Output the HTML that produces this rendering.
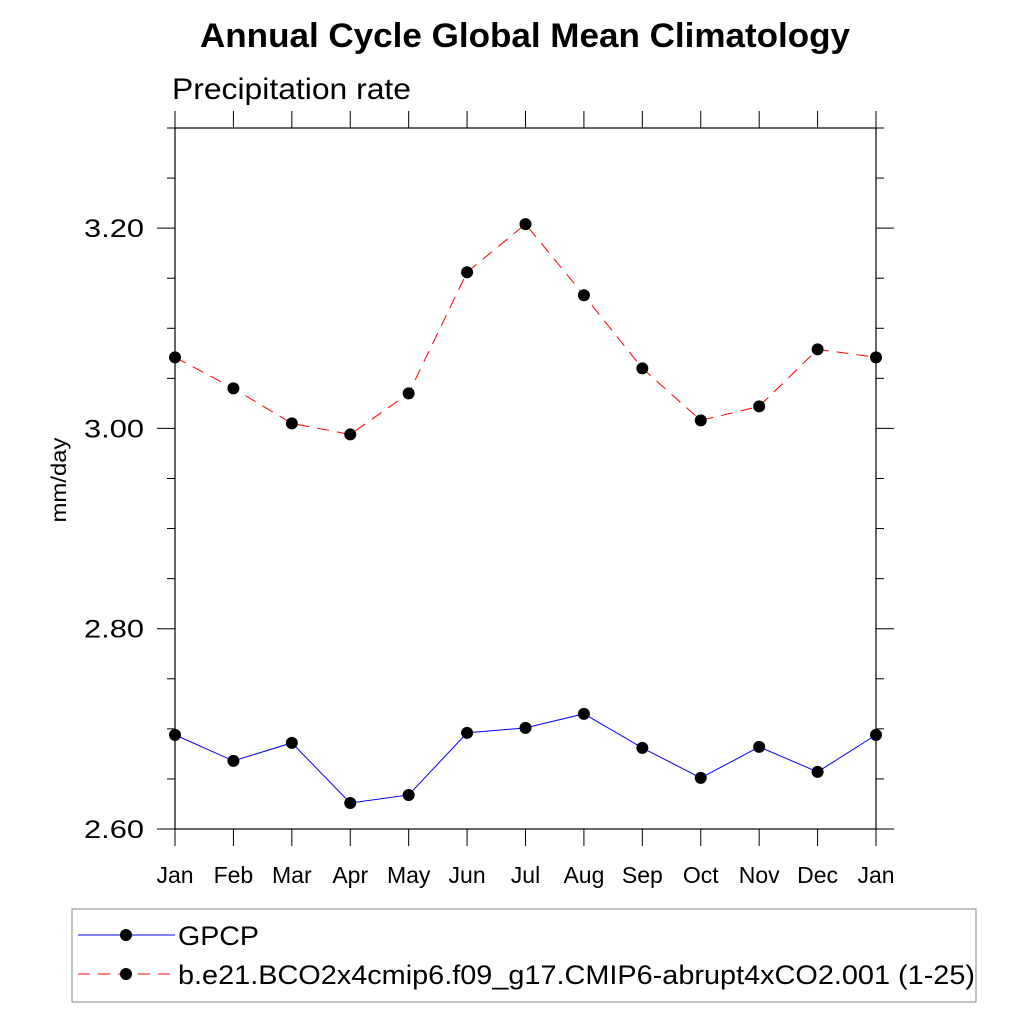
<!DOCTYPE html>
<html><head><meta charset="utf-8"><style>
body{margin:0;background:#fff;}
svg text{font-family:"Liberation Sans",Arial,sans-serif;}
</style></head><body>
<svg width="1024" height="1024" viewBox="0 0 1024 1024">
<text x="200" y="47" textLength="650" lengthAdjust="spacingAndGlyphs" font-size="34" font-weight="bold">Annual Cycle Global Mean Climatology</text>
<text x="172" y="99" textLength="239" lengthAdjust="spacingAndGlyphs" font-size="30">Precipitation rate</text>
<text transform="translate(66,480) rotate(-90)" text-anchor="middle" font-size="21" textLength="85" lengthAdjust="spacingAndGlyphs">mm/day</text>
<g id="axes"></g>
<g id="series"></g>
<g>
<rect x="72" y="909" width="904" height="93" fill="none" stroke="#888" stroke-width="1"/>
<line x1="78" y1="935" x2="175" y2="935" stroke="blue" stroke-width="1"/>
<circle cx="126" cy="935" r="6" fill="#000"/>
<text x="178" y="945" font-size="27" textLength="81" lengthAdjust="spacingAndGlyphs">GPCP</text>
<line x1="78" y1="974" x2="175" y2="974" stroke="red" stroke-width="1" stroke-dasharray="12,8"/>
<circle cx="126" cy="974" r="6" fill="#000"/>
<text x="178" y="984" font-size="27" textLength="797" lengthAdjust="spacingAndGlyphs">b.e21.BCO2x4cmip6.f09_g17.CMIP6-abrupt4xCO2.001 (1-25)</text>
</g>
</svg>
<script>
const months=["Jan","Feb","Mar","Apr","May","Jun","Jul","Aug","Sep","Oct","Nov","Dec","Jan"];
const gpcp=[2.694,2.668,2.686,2.626,2.634,2.696,2.701,2.715,2.681,2.651,2.682,2.657,2.694];
const model=[3.071,3.040,3.005,2.994,3.035,3.156,3.204,3.133,3.060,3.008,3.022,3.079,3.071];
const yTicks=[2.6,2.8,3.0,3.2];
const yTickLabels=["2.60","2.80","3.00","3.20"];
const yMin=2.6,yMax=3.3;
const L=175,R=876,T=128,B=829;
const NS="http://www.w3.org/2000/svg";
function X(i){return L+(R-L)*i/(months.length-1);}
function Y(v){return B-(B-T)*(v-yMin)/(yMax-yMin);}
function mk(tag,attrs,parent){const e=document.createElementNS(NS,tag);for(const k in attrs)e.setAttribute(k,attrs[k]);parent.appendChild(e);return e;}
const ax=document.getElementById('axes');
const frame=mk('rect',{x:L,y:T,width:R-L,height:B-T,fill:'none',stroke:'#000','stroke-width':1.2},ax);


months.forEach((m,i)=>{
  const x=X(i);
  mk('line',{x1:x,y1:B,x2:x,y2:B+17,stroke:'#000'},ax);
  mk('line',{x1:x,y1:T,x2:x,y2:T-17,stroke:'#000'},ax);
  const t=mk('text',{x:x,y:883,'text-anchor':'middle','font-size':23},ax);
  t.textContent=m;
  
  
});
for(let v=yMin;v<=yMax+1e-9;v+=0.05){
  const y=Y(v);const major=yTicks.some(t=>Math.abs(t-v)<1e-6);
  const len=major?18:8;
  mk('line',{x1:L,y1:y,x2:L-len,y2:y,stroke:'#000'},ax);
  mk('line',{x1:R,y1:y,x2:R+len,y2:y,stroke:'#000'},ax);
}
yTicks.forEach((v,i)=>{
  const t=mk('text',{x:144,y:Y(v)+9,'text-anchor':'end','font-size':25,textLength:60,lengthAdjust:'spacingAndGlyphs'},ax);
  t.textContent=yTickLabels[i];
  
  
});
const sg=document.getElementById('series');
function series(vals,color,dash,name){
  const p=mk('polyline',{points:vals.map((v,i)=>X(i)+','+Y(v)).join(' '),fill:'none',stroke:color,'stroke-width':1,'stroke-dasharray':dash},sg);
  
  
  vals.forEach((v,i)=>{
    const c=mk('circle',{cx:X(i),cy:Y(v),r:6,fill:'#000'},sg);
    
    
  });
}
series(gpcp,'blue','none','gpcp');
series(model,'red','12,8','model');
</script>
</body></html>
